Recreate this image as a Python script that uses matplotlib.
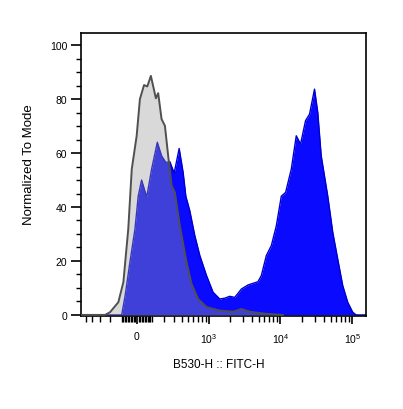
import numpy as np
import matplotlib.pyplot as plt
from matplotlib.ticker import FixedLocator, FixedFormatter, NullFormatter

plt.rcParams['font.family'] = ['Liberation Sans', 'DejaVu Sans']

# stained sample (blue), x in fluorescence units, y in % of mode
blue_x = [-590, -103, -79, -46, -13, 8, 30, 64, 98, 141, 176, 215, 254, 302,
          364, 420, 462, 530, 628, 743, 926, 1147, 1425, 1675, 1966, 2309,
          2860, 3535, 4864, 5424, 6365, 7472, 8761, 10282, 11797, 14150,
          16604, 19049, 22341, 25391, 29795, 33088, 36905, 45571, 53469,
          62681, 73548, 86315, 101303, 112918, 155000]
blue_y = [0, 0, 7, 19.6, 31.9, 44, 50, 43.7, 54, 64, 59, 56.5, 56.8, 52.6,
          61.7, 52.8, 44, 38.6, 29.4, 22, 14.6, 8.4, 5.9, 6.2, 6.9, 6.5,
          9.6, 11.1, 12.3, 14.6, 22, 25.7, 33, 44, 45.4, 54,
          66.4, 63.3, 72, 74.4, 83.7, 75, 59, 44, 30.6,
          20.7, 10.9, 4.7, 1, 0, 0]

# isotype control (gray)
gray_x = [-590, -244, -197, -128, -91, -57, -34, -2, 19, 46, 68, 93, 130,
          148, 176, 206, 237, 273, 310, 373, 474, 562, 701, 926, 1425,
          2186, 2860, 3731, 6365, 10726]
gray_y = [0, 0, 1, 4.7, 12.1, 31.9, 54, 66.4, 80, 85.2, 84.7, 88.6, 80.3,
          82.2, 72.6, 70.1, 59, 47.9, 45.4, 33, 19.5, 11.5, 5.9, 2.9, 1.6,
          1.2, 2.2, 1.2, 0.4, 0]

x_major = [0, 1e3, 1e4, 1e5]
x_labels = ['0', r'$\mathregular{10^3}$', r'$\mathregular{10^4}$', r'$\mathregular{10^5}$']

W = 202.0


def fwd(x):
    return np.arcsinh(np.asarray(x, dtype=float) / W)


def inv(y):
    return W * np.sinh(y)


fig = plt.figure(figsize=(4.03, 4.10), dpi=100)
ax = fig.add_axes([81/403, 1-317/410, 285/403, 283/410])
ax.set_xscale('function', functions=(fwd, inv))

ax.fill_between(blue_x, blue_y, 0, color='#0a0aff', lw=0, zorder=1)
ax.plot(blue_x, blue_y, color='#0000cc', lw=1.0, zorder=2)
ax.fill_between(gray_x, gray_y, 0, color='#9a9a9a', alpha=0.37, lw=0, zorder=3)
ax.plot(gray_x, gray_y, color='#505050', lw=1.4, zorder=4)

ax.set_xlim(-590, 155000)
ax.set_ylim(-0.4, 104.5)

minor = []
for k in range(1, 5):
    for m in range(1, 10):
        minor.append(m * 10**k)
        if m * 10**k <= 500:
            minor.append(-m * 10**k)
minor = sorted(v for v in minor if v not in x_major)
ax.xaxis.set_major_locator(FixedLocator(x_major))
ax.xaxis.set_major_formatter(FixedFormatter(x_labels))
ax.xaxis.set_minor_locator(FixedLocator(minor))
ax.xaxis.set_minor_formatter(NullFormatter())

ax.set_yticks([0, 20, 40, 60, 80, 100])
ax.set_yticks(np.arange(0, 105, 5), minor=True)

ax.tick_params(axis='x', which='major', length=6, width=1.2, labelsize=7.5, pad=5)
ax.tick_params(axis='x', which='minor', length=4, width=1)
ax.tick_params(axis='y', which='major', length=7, width=1.2, labelsize=7.5, pad=3)
ax.tick_params(axis='y', which='minor', length=3.5, width=1)
for sp in ax.spines.values():
    sp.set_linewidth(1.2)

ax.set_xlabel('B530-H :: FITC-H', fontsize=8.5)
ax.xaxis.set_label_coords(0.484, -0.15)
ax.set_ylabel('Normalized To Mode', fontsize=9.5)
ax.yaxis.set_label_coords(-0.16, 0.54)

fig.savefig('out.png', dpi=100)
